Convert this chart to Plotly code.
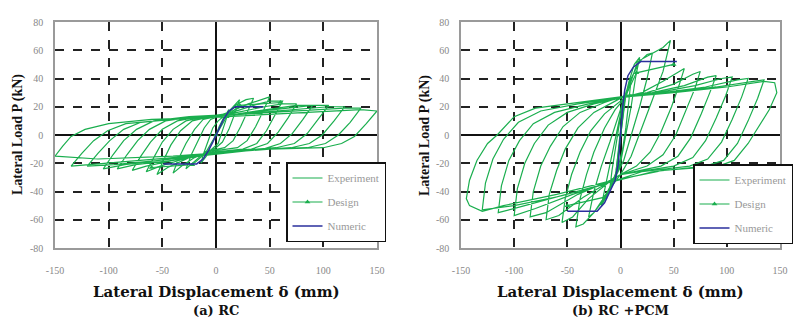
import plotly.graph_objects as go

# ---------------- data ----------------
x_ticks = [-150, -100, -50, 0, 50, 100, 150]
y_ticks = [-80, -60, -40, -20, 0, 20, 40, 60, 80]

# (a) RC – experimental hysteresis path (displacement mm, load kN)
rc_exp = [
    (0, 0), (3, 6), (7, 12), (12, 18), (9, 10), (5, 0), (2, -6), (-4, -10), (-9, -15), (-14, -20),
    (-11, -12), (-7, -3), (-3, 5), (2, 10),
    (10, 15), (16, 20), (22, 25), (17, 14), (12, 4), (6, -5), (0, -9), (-10, -12), (-20, -19), (-28, -24),
    (-23, -14), (-17, -4), (-11, 5), (-5, 11), (2, 13),
    (12, 16), (20, 22), (28, 25), (35, 26), (29, 16), (23, 6), (16, -4), (8, -9), (-5, -11), (-20, -16),
    (-32, -22), (-40, -27), (-35, -17), (-28, -6), (-20, 4), (-12, 11), (0, 13),
    (15, 17), (30, 22), (42, 25), (50, 27), (44, 17), (37, 6), (29, -4), (20, -9), (0, -11), (-25, -16),
    (-45, -23), (-55, -28), (-49, -18), (-42, -7), (-33, 3), (-22, 10), (-5, 13),
    (15, 16), (35, 21), (50, 24), (62, 24), (55, 14), (47, 3), (38, -6), (25, -10), (0, -12), (-30, -17),
    (-52, -22), (-65, -26), (-58, -16), (-50, -5), (-40, 4), (-28, 10), (-10, 13),
    (20, 16), (45, 20), (62, 22), (75, 22), (67, 12), (58, 2), (48, -6), (33, -10), (0, -12), (-40, -18),
    (-65, -22), (-78, -25), (-70, -15), (-61, -5), (-50, 4), (-36, 10), (-15, 13),
    (20, 15), (55, 19), (75, 21), (90, 21), (81, 11), (71, 1), (60, -6), (44, -10), (10, -12), (-40, -18),
    (-75, -21), (-92, -24), (-83, -14), (-73, -4), (-62, 4), (-47, 10), (-20, 13),
    (20, 15), (65, 19), (90, 21), (105, 21), (95, 11), (85, 1), (73, -6), (56, -9), (20, -11), (-40, -17),
    (-85, -21), (-105, -24), (-96, -14), (-86, -4), (-74, 4), (-58, 10), (-25, 13),
    (25, 15), (75, 18), (105, 20), (120, 20), (110, 10), (99, 0), (87, -6), (70, -9), (30, -11), (-40, -17),
    (-95, -21), (-120, -22), (-110, -13), (-99, -4), (-86, 4), (-70, 9), (-30, 12),
    (30, 15), (90, 18), (120, 19), (135, 19), (125, 9), (114, 0), (102, -6), (85, -9), (40, -10), (-40, -16),
    (-105, -20), (-135, -22), (-125, -13), (-114, -4), (-101, 3), (-84, 8), (-40, 11),
    (30, 14), (100, 17), (135, 18), (150, 17), (140, 8), (129, -1), (117, -6), (100, -9), (50, -10), (-40, -15),
    (-110, -17), (-150, -15), (-143, -8), (-135, -1), (-122, 4), (-100, 8), (-60, 11), (-20, 12),
]
rc_design_x = [-60, -22, -10, 0, 10, 22, 60]
rc_design_y = [-23, -21, -13, 0, 13, 21, 23]
rc_num_x = [-49, -18, -12, -7, -3, 0, 3, 7, 12, 18, 44]
rc_num_y = [-20.5, -20.5, -17, -11, -5, 0, 5, 11, 17, 20, 20]

# (b) RC + PCM – experimental hysteresis path
pcm_exp = [
    (0, 0), (2, 15), (4, 25), (2, 10), (0, -5), (-2, -15), (-4, -25), (-2, -10), (0, 5), (2, 18),
    (5, 30), (10, 40), (8, 25), (5, 5), (2, -10), (-2, -22), (-6, -30), (-10, -38),
    (-8, -25), (-5, -10), (-2, 5), (1, 18), (4, 26),
    (8, 38), (13, 50), (18, 55), (14, 40), (10, 20), (5, 0), (0, -20), (-5, -30), (-12, -42), (-18, -50),
    (-14, -35), (-10, -20), (-5, -2), (0, 15), (5, 27),
    (10, 40), (18, 52), (25, 57), (30, 58), (25, 40), (18, 20), (10, 0), (3, -18), (-5, -30), (-15, -45),
    (-25, -55), (-30, -58), (-25, -40), (-18, -22), (-10, -5), (-3, 12), (3, 25),
    (10, 38), (16, 52), (28, 57), (40, 62), (47, 67), (40, 45), (30, 25), (20, 5), (10, -15), (0, -28),
    (-10, -38), (-25, -55), (-35, -63), (-42, -65), (-38, -45), (-32, -28), (-25, -12), (-15, 5), (-5, 18), (5, 27),
    (20, 30), (40, 38), (55, 45), (60, 47), (55, 35), (48, 20), (38, 2), (28, -12), (15, -22), (0, -28),
    (-10, -33), (-30, -45), (-45, -58), (-55, -62), (-52, -45), (-46, -28), (-38, -12), (-28, 3), (-15, 15),
    (0, 24), (5, 27),
    (25, 30), (50, 36), (68, 43), (75, 45), (70, 33), (62, 18), (52, 0), (40, -14), (25, -22), (0, -28),
    (-10, -33), (-35, -44), (-58, -57), (-70, -60), (-67, -42), (-60, -25), (-52, -10), (-40, 5), (-25, 16),
    (-5, 24), (5, 28),
    (30, 30), (60, 35), (82, 41), (90, 42), (84, 30), (76, 15), (66, -2), (54, -15), (38, -22), (0, -28),
    (-12, -33), (-40, -42), (-70, -55), (-85, -58), (-82, -40), (-75, -22), (-66, -8), (-54, 6), (-38, 16),
    (-15, 23), (5, 28),
    (35, 30), (70, 35), (95, 40), (105, 41), (99, 28), (90, 12), (80, -4), (68, -16), (50, -22), (0, -28),
    (-12, -34), (-45, -42), (-80, -52), (-100, -57), (-97, -38), (-90, -20), (-81, -6), (-68, 7), (-50, 16),
    (-25, 22), (5, 27),
    (40, 30), (80, 34), (110, 39), (120, 40), (114, 27), (105, 11), (95, -5), (82, -17), (65, -22), (20, -26),
    (-12, -34), (-50, -42), (-90, -50), (-115, -55), (-112, -36), (-105, -18), (-95, -4), (-82, 8), (-62, 16),
    (-30, 22), (5, 27),
    (45, 30), (90, 34), (125, 38), (135, 39), (129, 26), (120, 10), (110, -6), (97, -18), (80, -22), (30, -26),
    (-12, -34), (-55, -43), (-100, -50), (-130, -53), (-127, -34), (-120, -17), (-110, -3), (-96, 9), (-75, 17),
    (-40, 22), (5, 27),
    (50, 30), (100, 34), (135, 38), (145, 37), (147, 30), (140, 18), (130, 6), (120, -6), (107, -18), (92, -22),
    (40, -25), (-12, -33), (-60, -42), (-110, -50), (-130, -54), (-142, -50), (-145, -45), (-142, -32),
    (-135, -18), (-125, -6), (-116, 0), (-100, 13), (-80, 19), (-50, 22), (-20, 25), (0, 27),
]
pcm_design_x = [-50, -15, -5, 0, 5, 15, 50]
pcm_design_y = [-50, -44, -30, 0, 28, 44, 50]
pcm_num_x = [-50, -22, -15, -10, -5, -2, 0, 2, 4, 7, 12, 19, 53]
pcm_num_y = [-54, -54, -48, -40, -32, -20, 0, 20, 32, 42, 48, 52, 52]

legend_names = ["Experiment", "Design", "Numeric"]
subtitles = ["(a) RC", "(b) RC +PCM"]
x_title = "Lateral Displacement δ (mm)"
y_title = "Lateral Load P (kN)"

# ---------------- styling ----------------
GREEN = "#1aae4e"
BLUE = "#2a2f9c"
SERIF = "Liberation Serif, Times New Roman, serif"
WIDE_SERIF = "DejaVu Serif, serif"

fig = go.Figure()

panels = [
    (rc_exp, rc_design_x, rc_design_y, rc_num_x, rc_num_y, "x", "y", "legend"),
    (pcm_exp, pcm_design_x, pcm_design_y, pcm_num_x, pcm_num_y, "x2", "y2", "legend2"),
]
for i, (exp, dx, dy, nx, ny, xa, ya, lg) in enumerate(panels):
    fig.add_trace(go.Scatter(
        x=[p[0] for p in exp], y=[p[1] for p in exp], mode="lines",
        line=dict(color=GREEN, width=1.2), name=legend_names[0],
        xaxis=xa, yaxis=ya, legend=lg, legendgroup=f"e{i}"))
    fig.add_trace(go.Scatter(
        x=dx, y=dy, mode="lines+markers",
        line=dict(color=GREEN, width=1.2), marker=dict(symbol="triangle-up", size=5, color=GREEN),
        name=legend_names[1], xaxis=xa, yaxis=ya, legend=lg, legendgroup=f"d{i}"))
    fig.add_trace(go.Scatter(
        x=nx, y=ny, mode="lines", line=dict(color=BLUE, width=1.5),
        name=legend_names[2], xaxis=xa, yaxis=ya, legend=lg, legendgroup=f"n{i}"))

W, H = 801, 322
ydom = [1 - 248 / H, 1 - 22 / H]
xdoms = [[55 / W, 377 / W], [461 / W, 780 / W]]

common_x = dict(range=[-150, 150], tickvals=x_ticks, ticktext=[str(v) for v in x_ticks],
                showgrid=True, gridcolor="#222", griddash="dash", gridwidth=1.5,
                zeroline=True, zerolinecolor="#111", zerolinewidth=1.6,
                showline=True, linecolor="#9a9a9a", linewidth=1.5, mirror=True,
                ticks="outside", ticklen=12, tickcolor="rgba(0,0,0,0)", automargin=False,
                tickfont=dict(family=SERIF, size=10, color="#888"), fixedrange=True)
common_y = dict(range=[-80, 80], tickvals=y_ticks, ticktext=[str(v) for v in y_ticks],
                showgrid=True, gridcolor="#222", griddash="dash", gridwidth=1.5,
                zeroline=True, zerolinecolor="#111", zerolinewidth=1.6,
                showline=True, linecolor="#9a9a9a", linewidth=1.5, mirror=True,
                ticks="outside", ticklen=8, tickcolor="rgba(0,0,0,0)", automargin=False,
                tickfont=dict(family=SERIF, size=10, color="#888"), fixedrange=True)

legend_common = dict(xanchor="left", yanchor="top",
                     bgcolor="white", bordercolor="#111", borderwidth=1.5,
                     font=dict(family=SERIF, size=11, color="#999"),
                     tracegroupgap=5, itemwidth=30, traceorder="grouped")

fig.update_layout(
    width=W, height=H, margin=dict(l=0, r=0, t=0, b=0, autoexpand=False),
    paper_bgcolor="white", plot_bgcolor="white",
    xaxis=dict(domain=xdoms[0], anchor="y", **common_x),
    yaxis=dict(domain=ydom, anchor="x", **common_y),
    xaxis2=dict(domain=xdoms[1], anchor="y2", **common_x),
    yaxis2=dict(domain=ydom, anchor="x2", **common_y),
    legend=dict(x=286 / W, y=1 - 162 / H, **legend_common),
    legend2=dict(x=693 / W, y=1 - 164 / H, **legend_common),
)

annots = []
centers = [(55 + 377) / 2 / W, (461 + 780) / 2 / W]
ytitle_x = [18 / W, 425 / W]
for i in range(2):
    annots.append(dict(text=f"<b>{x_title}</b>", x=centers[i], y=1 - 292 / H, xref="paper", yref="paper",
                       xanchor="center", yanchor="middle", showarrow=False,
                       font=dict(family=WIDE_SERIF, size=15, color="#111")))
    annots.append(dict(text=f"<b>{subtitles[i]}</b>", x=centers[i], y=1 - 310 / H, xref="paper", yref="paper",
                       xanchor="center", yanchor="middle", showarrow=False,
                       font=dict(family=WIDE_SERIF, size=13, color="#111")))
    annots.append(dict(text=f"<b>{y_title}</b>", x=ytitle_x[i], y=1 - 135 / H, xref="paper", yref="paper",
                       xanchor="center", yanchor="middle", showarrow=False, textangle=-90,
                       font=dict(family=SERIF, size=14, color="#111")))
fig.update_layout(annotations=annots)

fig.write_html("out.html", config={"displayModeBar": False},
               post_script="document.body.style.margin='0px';")
